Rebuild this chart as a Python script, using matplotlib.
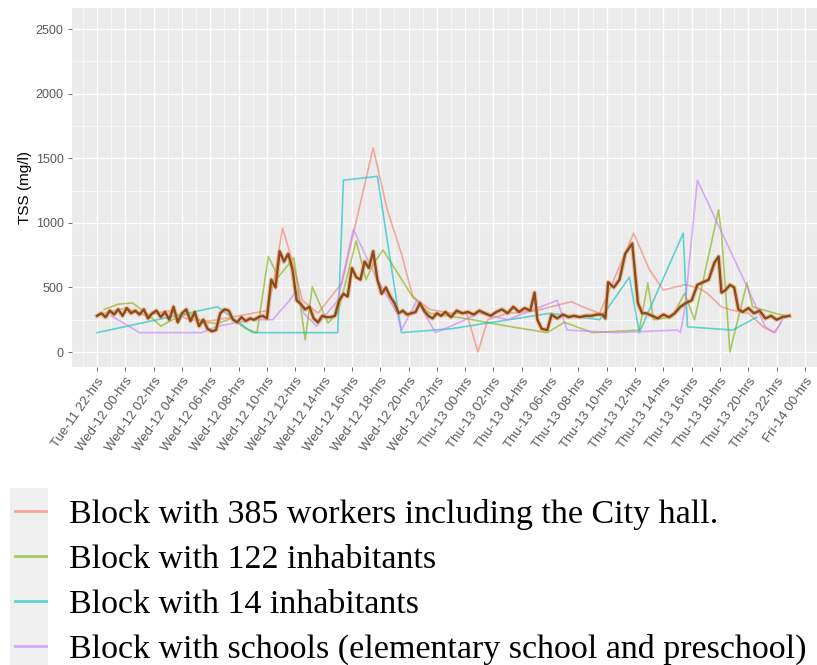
import matplotlib
matplotlib.use("Agg")
import matplotlib.pyplot as plt
from matplotlib.ticker import MultipleLocator
from matplotlib.patches import Rectangle

# hours counted from Tue-11 22:00
tick_labels = ["Tue-11 22-hrs"] + \
    ["Wed-12 %02d-hrs" % h for h in range(0, 24, 2)] + \
    ["Thu-13 %02d-hrs" % h for h in range(0, 24, 2)] + \
    ["Fri-14 00-hrs"]
tick_hours = [2 * i for i in range(len(tick_labels))]

series_names = ["Block with 385 workers including the City hall.",
                "Block with 122 inhabitants",
                "Block with 14 inhabitants",
                "Block with schools (elementary school and preschool)"]
series_colors = ["#F8766D", "#7CAE00", "#00BFC4", "#C77CFF"]

# block with 385 workers
hrs_red = [0.5, 2.0, 3.5, 5.0, 6.5, 8.0, 9.5, 11.0, 12.0, 12.5,
           13.1, 13.8, 14.5, 15.6, 17.3, 19.5, 20.5, 21.5, 22.3, 23.5,
           25.0, 26.1, 26.9, 27.6, 29.0, 31.0, 33.5, 34.3, 35.5, 36.5,
           37.9, 39.0, 40.0, 41.5, 42.4, 43.1, 44.1, 44.8, 46.0, 47.1,
           47.8, 48.3]
tss_red = [300, 340, 280, 320, 250, 240, 270, 300, 320, 560,
           960, 700, 400, 300, 535, 1580, 1100, 760, 430, 330,
           300, 300, 0, 250, 300, 320, 390, 350, 300, 560,
           920, 640, 480, 520, 500, 455, 350, 325, 300, 190,
           150, 225]

# block with 122 inhabitants
hrs_green = [0.5, 1.5, 2.5, 3.5, 4.5, 5.5, 6.5, 7.5, 8.5, 9.5,
             10.5, 11.3, 12.1, 12.8, 13.9, 14.7, 15.2, 16.3, 17.0, 18.3,
             19.0, 19.5, 20.2, 22.3, 23.5, 26.0, 29.0, 31.8, 33.0, 35.0,
             38.3, 38.9, 39.3, 40.6, 41.5, 42.2, 43.9, 44.1, 44.7, 45.9,
             46.3, 47.9, 48.6]
tss_green = [330, 370, 380, 300, 200, 260, 300, 230, 220, 260,
             180, 150, 740, 580, 730, 93, 505, 225, 300, 860,
             560, 680, 790, 425, 300, 260, 200, 150, 230, 150,
             170, 535, 250, 270, 455, 250, 1100, 920, 0, 535,
             350, 300, 280]

# block with 14 inhabitants
hrs_cyan = [0.0, 8.5, 11.0, 17.0, 17.4, 19.8, 21.5, 25.0, 32.0, 35.5,
            37.6, 38.3, 41.4, 41.7, 44.9, 46.6]
tss_cyan = [150, 350, 150, 150, 1330, 1360, 150, 180, 300, 250,
            580, 150, 920, 195, 170, 270]

# block with schools
hrs_purple = [1.0, 3.0, 7.4, 8.5, 11.0, 12.4, 13.6, 14.1, 14.6, 15.5,
              17.0, 18.1, 19.6, 21.2, 21.5, 22.6, 23.9, 25.0, 27.0, 29.0,
              32.5, 33.2, 36.7, 41.0, 41.2, 41.5, 42.4, 45.7, 47.2, 47.9,
              48.4]
tss_purple = [280, 150, 150, 200, 250, 250, 400, 480, 300, 200,
              400, 950, 600, 300, 170, 400, 150, 200, 300, 250,
              400, 170, 150, 170, 150, 325, 1330, 555, 195, 150,
              250]

# overall curve (thick brown line)
hrs_all = [0.0, 0.3, 0.6, 0.9, 1.2, 1.5, 1.8, 2.1, 2.4, 2.7,
           3.0, 3.3, 3.6, 3.9, 4.2, 4.5, 4.8, 5.1, 5.4, 5.7,
           6.0, 6.3, 6.6, 6.9, 7.2, 7.5, 7.8, 8.1, 8.4, 8.7,
           9.0, 9.3, 9.6, 9.9, 10.2, 10.5, 10.8, 11.1, 11.4, 11.7,
           12.0, 12.3, 12.6, 12.9, 13.2, 13.5, 13.8, 14.1, 14.4, 14.7,
           15.0, 15.3, 15.6, 15.9, 16.2, 16.5, 16.8, 17.1, 17.4, 17.7,
           18.0, 18.3, 18.6, 18.9, 19.2, 19.5, 19.8, 20.1, 20.4, 20.7,
           21.0, 21.3, 21.6, 21.9, 22.2, 22.5, 22.8, 23.1, 23.4, 23.7,
           24.0, 24.3, 24.6, 25.0, 25.4, 25.8, 26.2, 26.6, 27.0, 27.4,
           27.8, 28.2, 28.6, 29.0, 29.4, 29.8, 30.2, 30.6, 30.9, 31.1,
           31.4, 31.8, 32.1, 32.5, 32.9, 33.3, 33.7, 34.1, 34.5, 34.9,
           35.3, 35.7, 35.9, 36.1, 36.5, 36.9, 37.3, 37.8, 38.2, 38.5,
           38.8, 39.2, 39.6, 40.0, 40.4, 40.8, 41.2, 41.6, 42.0, 42.4,
           42.8, 43.2, 43.6, 43.9, 44.1, 44.4, 44.7, 45.0, 45.3, 45.6,
           46.0, 46.4, 46.8, 47.2, 47.6, 48.0, 48.4, 48.9]
tss_all = [280, 300, 270, 320, 290, 330, 280, 340, 300, 320,
           290, 330, 260, 300, 320, 270, 310, 250, 350, 230,
           300, 330, 240, 310, 200, 250, 180, 160, 170, 300,
           330, 320, 250, 230, 270, 240, 260, 250, 270, 280,
           260, 560, 500, 780, 700, 760, 640, 400, 370, 330,
           350, 260, 230, 280, 270, 270, 280, 400, 450, 430,
           650, 580, 560, 700, 650, 780, 560, 450, 500, 430,
           380, 300, 320, 290, 300, 310, 380, 320, 280, 260,
           300, 280, 310, 270, 320, 300, 310, 290, 320, 300,
           280, 310, 330, 300, 350, 310, 340, 320, 460, 250,
           180, 170, 290, 260, 290, 270, 280, 270, 280, 280,
           290, 290, 260, 540, 500, 560, 760, 840, 380, 300,
           300, 280, 260, 290, 270, 300, 350, 380, 400, 520,
           540, 560, 690, 740, 460, 480, 520, 500, 330, 310,
           340, 300, 320, 260, 280, 250, 270, 280]

fig = plt.figure(figsize=(8.17, 6.65), dpi=100)
ax = fig.add_axes([72 / 817, 1 - 367 / 665, 1 - 72 / 817, 359 / 665])
ax.set_facecolor("#EBEBEB")
for s in ax.spines.values():
    s.set_visible(False)

thin = [(hrs_red, tss_red), (hrs_green, tss_green), (hrs_cyan, tss_cyan), (hrs_purple, tss_purple)]
handles = []
for (x, y), c, name in zip(thin, series_colors, series_names):
    ln, = ax.plot(x, y, color=c, lw=1.2, alpha=0.6, label=name, zorder=3)
    handles.append(ln)

ax.plot(hrs_all, tss_all, color="#E3A055", lw=3.4, alpha=0.55, zorder=4)
ax.plot(hrs_all, tss_all, color="#8A4A22", lw=1.7, zorder=5)

ax.set_xlim(-1.77, 50.85)
ax.set_ylim(-116, 2663)
ax.set_xticks(tick_hours)
ax.set_xticklabels(tick_labels, rotation=55, ha="right", rotation_mode="anchor",
                   fontsize=9.5, color="#5A5A5A", family="Liberation Sans")
ax.xaxis.set_minor_locator(MultipleLocator(1))
ax.set_yticks([0, 500, 1000, 1500, 2000, 2500])
ax.yaxis.set_minor_locator(MultipleLocator(250))
for lab in ax.get_yticklabels():
    lab.set_fontsize(9)
    lab.set_color("#5A5A5A")
    lab.set_family("Liberation Sans")
ax.tick_params(which="major", length=3, color="#555555", width=0.6, pad=3)
ax.tick_params(which="minor", length=0)
ax.grid(which="major", color="white", lw=1.0, zorder=0)
ax.grid(which="minor", color="white", lw=0.5, alpha=0.8, zorder=0)
ax.set_axisbelow(True)
ax.set_ylabel("TSS (mg/l)", fontsize=11, family="Liberation Sans", labelpad=3)

# legend below the plot, with grey key background
fig.patches.append(Rectangle((10 / 817, 0), 38 / 817, 177 / 665, transform=fig.transFigure,
                             facecolor="#EFEFEF", edgecolor="none", zorder=0))
fig.legend(handles=handles, loc="upper left", bbox_to_anchor=(15 / 817, 1 - 499 / 665),
           frameon=False, handlelength=0.9, handletextpad=0.7, labelspacing=0.41,
           borderaxespad=0, borderpad=0,
           prop={"family": "Liberation Serif", "size": 24.5})
for h in fig.legends[0].legend_handles:
    h.set_linewidth(2.0)

fig.savefig("out.png", dpi=100)
